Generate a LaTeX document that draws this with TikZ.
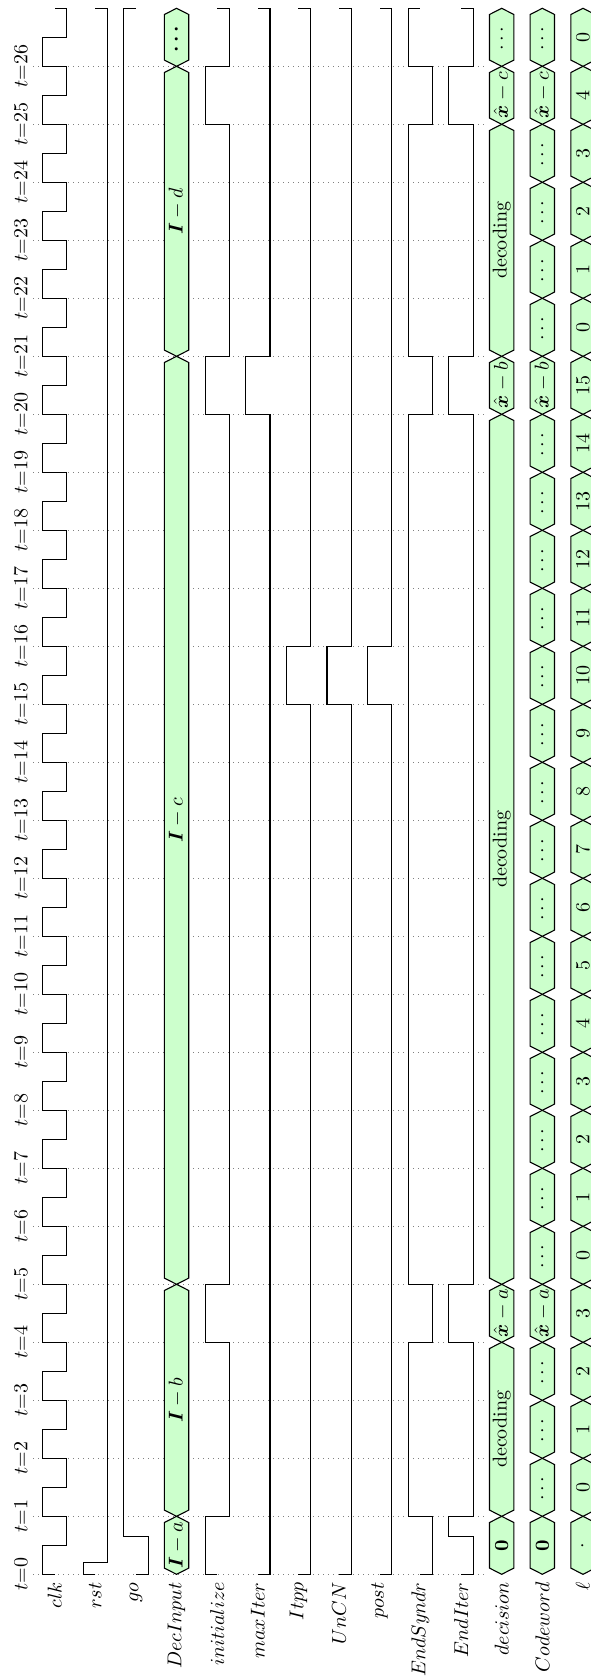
\documentclass[tikz,border=0pt]{standalone}
\usepackage{amsmath,amssymb,bm}
\tikzset{
  declare function={ty(\t)=1574.3-58*\t; hx(\i)=42.5+40.64*\i;},
  sig/.style={line width=0.55pt, black},
  busbox/.style={draw=black, fill=green!20, line width=0.55pt},
  gridline/.style={gray, dotted, line width=0.5pt},
  buslabel/.style={rotate=90, inner sep=0pt},
  siglabel/.style={rotate=90, anchor=east, inner sep=0pt},
  timelabel/.style={rotate=90, inner sep=0pt}
}
\newcommand\busseg[5]{% row, a, b, label, name
  \pgfmathsetmacro\bxh{hx(#1)}
  \pgfmathsetmacro\bxl{\bxh+24.3}
  \pgfmathsetmacro\bxc{\bxh+12.15}
  \pgfmathsetmacro\bya{ty(#2)}
  \pgfmathsetmacro\byb{ty(#3)}
  \pgfmathsetmacro\bym{ty((#2+#3)/2)}
  \draw[busbox] (\bxc,\bya) -- (\bxh,\bya-6.2) -- (\bxh,\byb+6.2) -- (\bxc,\byb)
     -- (\bxl,\byb+6.2) -- (\bxl,\bya-6.2) -- cycle;
  \node[buslabel] (#5) at (\bxc,\bym) {#4};
}
\newcommand\wave[4]{% row, start level, toggles t/a/b, end level
  \pgfmathsetmacro\wxh{hx(#1)}
  \pgfmathsetmacro\wxc{\wxh+12.15}
  \draw[sig] (\wxc,{ty(0)}) -- ({\wxh+24.3*#2},{ty(0)})
    \foreach \t/\a/\b in {#3} { -- ({\wxh+24.3*\a},{ty(\t)}) -- ({\wxh+24.3*\b},{ty(\t)}) }
    -- ({\wxh+24.3*#4},{ty(27)}) -- (\wxc,{ty(27)});
}
\begin{document}
\begin{tikzpicture}[x=0.5pt,y=-0.5pt]
\useasboundingbox (0,0) rectangle (590,1679);
% grid and time labels
\foreach \k in {0,...,26}{
  \draw[gridline] (33,{ty(\k)}) -- (486,{ty(\k)});
  \node[timelabel] (tl\k) at (21,{ty(\k)}) {$t{=}\k$};
}
% clock
\pgfmathsetmacro\cxh{hx(0)}
\pgfmathsetmacro\cxl{\cxh+24.3}
\pgfmathsetmacro\cxc{\cxh+12.15}
\draw[sig] (\cxc,{ty(0)}) \foreach \k in {0,...,26}{ -- (\cxh,{ty(\k)}) -- (\cxh,{ty(\k+0.5)}) -- (\cxl,{ty(\k+0.5)}) -- (\cxl,{ty(\k+1)}) } -- (\cxc,{ty(27)});
% rst, go
\wave{1}{0}{0.2/0/1}{1}
\wave{2}{1}{0.65/1/0}{0}
% DecInput
\busseg{3}{0}{1}{$\bm{I}-a$}{di1}
\busseg{3}{1}{5}{$\bm{I}-b$}{di2}
\busseg{3}{5}{21}{$\bm{I}-c$}{di3}
\busseg{3}{21}{26}{$\bm{I}-d$}{di4}
\busseg{3}{26}{27}{$\bm{\cdots}$}{di5}
% initialize
\wave{4}{0}{1/0/1,4/1/0,5/0/1,20/1/0,21/0/1,25/1/0,26/0/1}{1}
% maxIter
\wave{5}{1}{20/1/0,21/0/1}{1}
% Itpp, UnCN, post
\wave{6}{1}{15/1/0,16/0/1}{1}
\wave{7}{1}{15/1/0,16/0/1}{1}
\wave{8}{1}{15/1/0,16/0/1}{1}
% EndSyndr
\wave{9}{1}{1/1/0,4/0/1,5/1/0,20/0/1,21/1/0,25/0/1,26/1/0}{0}
% EndIter
\wave{10}{1}{0.65/1/0,1/0/1,4/1/0,5/0/1,20/1/0,21/0/1,25/1/0,26/0/1}{1}
% decision
\busseg{11}{0}{1}{$\mathbf{0}$}{de1}
\busseg{11}{1}{4}{decoding}{de2}
\busseg{11}{4}{5}{$\hat{\bm{x}}-a$}{de3}
\busseg{11}{5}{20}{decoding}{de4}
\busseg{11}{20}{21}{$\hat{\bm{x}}-b$}{de5}
\busseg{11}{21}{25}{decoding}{de6}
\busseg{11}{25}{26}{$\hat{\bm{x}}-c$}{de7}
\busseg{11}{26}{27}{$\dots$}{de8}
% Codeword
\busseg{12}{0}{1}{$\mathbf{0}$}{cw0}
\foreach \k in {1,2,3,5,6,7,8,9,10,11,12,13,14,15,16,17,18,19,21,22,23,24,26}{
  \busseg{12}{\k}{\k+1}{$\dots$}{cw\k}
}
\busseg{12}{4}{5}{$\hat{\bm{x}}-a$}{cw4}
\busseg{12}{20}{21}{$\hat{\bm{x}}-b$}{cw20}
\busseg{12}{25}{26}{$\hat{\bm{x}}-c$}{cw25}
% ell
\busseg{13}{0}{1}{$\cdot$}{el0}
\foreach \k/\v in {1/0,2/1,3/2,4/3,5/0,6/1,7/2,8/3,9/4,10/5,11/6,12/7,13/8,14/9,15/10,16/11,17/12,18/13,19/14,20/15,21/0,22/1,23/2,24/3,25/4,26/0}{
  \busseg{13}{\k}{\k+1}{$\v$}{el\k}
}
% signal labels
\foreach \i/\s in {0/clk,1/rst,2/go,3/DecInput,4/initialize,5/maxIter,6/Itpp,7/UnCN,8/post,9/EndSyndr,10/EndIter,11/decision,12/Codeword,13/\ell}{
  \node[siglabel] (lab\i) at ({hx(\i)+12.15},1582) {$\s$};
}
\end{tikzpicture}
\end{document}
